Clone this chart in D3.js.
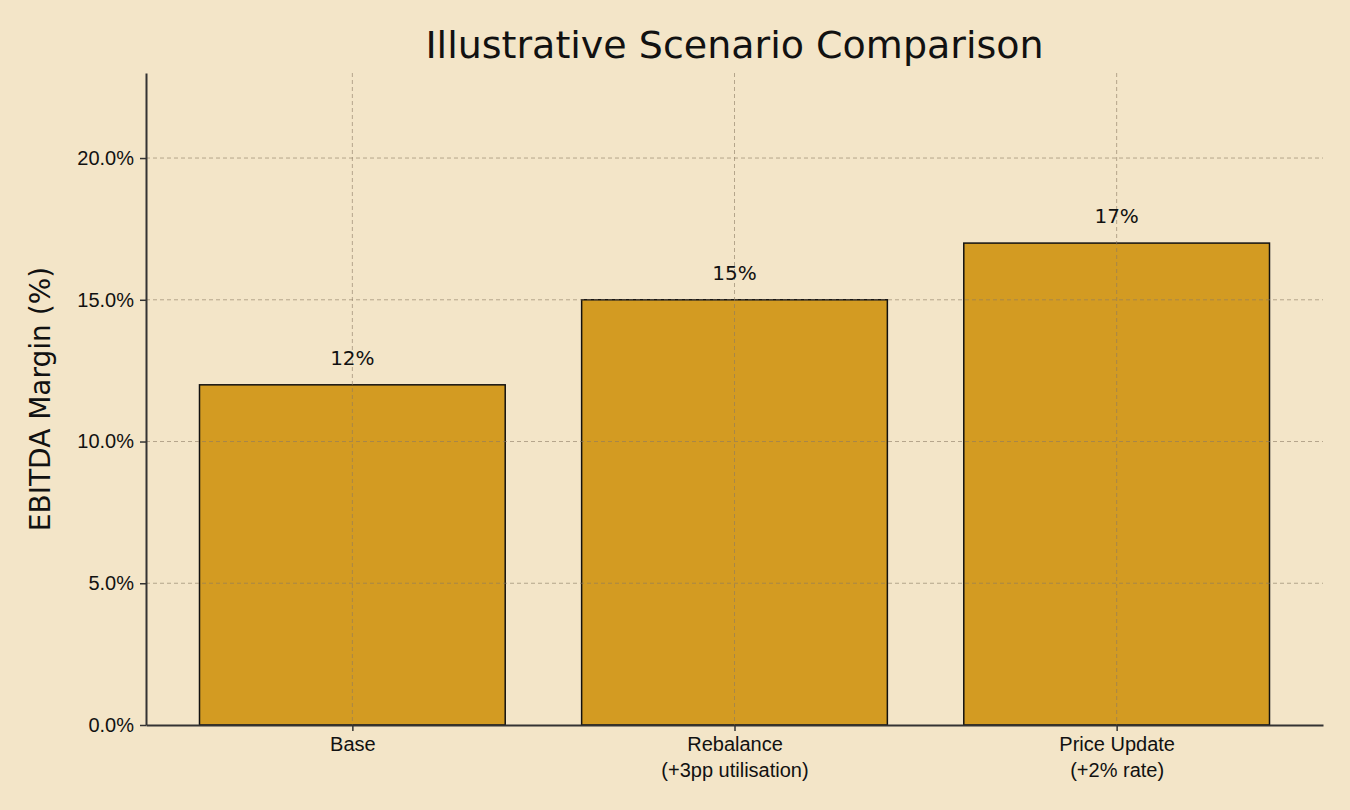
<!DOCTYPE html>
<html><head><meta charset="utf-8">
<script src="https://cdn.jsdelivr.net/npm/d3@7"></script>
<style>body{margin:0;background:#f3e5c8;}svg{font-family:"DejaVu Sans",sans-serif;}</style>
</head><body>
<svg id="chart" width="1350" height="810"></svg>
<script>
// data
var categories = [["Base"], ["Rebalance", "(+3pp utilisation)"], ["Price Update", "(+2% rate)"]];
var margins = [12, 15, 17];
var yTicks = [0, 5, 10, 15, 20];

const width = 1350, height = 810;
const margin = {top: 73, right: 27, bottom: 85, left: 146};

const svg = d3.select("#chart");
svg.append("rect").attr("width", width).attr("height", height).attr("fill", "#f3e5c8");

const x = d3.scaleLinear().domain([-0.54, 2.54]).range([margin.left, width - margin.right]);
const y = d3.scaleLinear().domain([0, 23]).range([height - margin.bottom, margin.top]);
const barW = x(0.8) - x(0);

// bars
svg.append("g").selectAll("rect")
  .data(margins)
  .join("rect")
    .attr("x", (d, i) => x(i) - barW / 2)
    .attr("y", d => y(d))
    .attr("width", barW)
    .attr("height", d => y(0) - y(d))
    .attr("fill", "#d39b22")
    .attr("stroke", "#111")
    .attr("stroke-width", 1.5);

// grid on top
const grid = svg.append("g").attr("stroke", "#8a7a62").attr("stroke-opacity", 0.6)
  .attr("stroke-dasharray", "4,3").attr("stroke-width", 1);
grid.selectAll(".h").data(yTicks.slice(1)).join("line")
  .attr("x1", margin.left).attr("x2", width - margin.right)
  .attr("y1", d => y(d)).attr("y2", d => y(d));
grid.selectAll(".v").data(margins).join("line")
  .attr("x1", (d, i) => x(i)).attr("x2", (d, i) => x(i))
  .attr("y1", margin.top).attr("y2", y(0));

// value labels
svg.append("g").selectAll("text")
  .data(margins)
  .join("text")
    .attr("x", (d, i) => x(i))
    .attr("y", d => y(d) - 20)
    .attr("text-anchor", "middle")
    .attr("font-size", 20)
    .attr("fill", "#111")
    .text(d => d + "%");

// axes
const yAxis = svg.append("g")
  .attr("transform", `translate(${margin.left},0)`)
  .call(d3.axisLeft(y).tickValues(yTicks).tickFormat(d => d.toFixed(1) + "%").tickSize(6).tickPadding(6).tickSizeOuter(0));
yAxis.selectAll("text").attr("font-size", 20).attr("fill", "#111");

const xAxis = svg.append("g")
  .attr("transform", `translate(0,${y(0)})`)
  .call(d3.axisBottom(x).tickValues([0, 1, 2]).tickFormat("").tickSize(6).tickSizeOuter(0));
xAxis.selectAll(".tick").each(function(d) {
  const t = d3.select(this).append("text").attr("fill", "#111").attr("font-size", 20)
    .attr("text-anchor", "middle").attr("y", 26);
  categories[d].forEach((s, k) => t.append("tspan").attr("x", 0).attr("dy", k ? 26 : 0).text(s));
});
[yAxis, xAxis].forEach(a => { a.select(".domain").attr("stroke", "#333").attr("stroke-width", 2); a.selectAll(".tick line").attr("stroke", "#333").attr("stroke-width", 1.5); });

// titles
svg.append("text").attr("x", (margin.left + width - margin.right) / 2).attr("y", 58)
  .attr("text-anchor", "middle").attr("font-size", 38).attr("fill", "#111")
  .text("Illustrative Scenario Comparison");
svg.append("text").attr("transform", `translate(50,${(margin.top + y(0)) / 2}) rotate(-90)`)
  .attr("text-anchor", "middle").attr("font-size", 28).attr("fill", "#111")
  .text("EBITDA Margin (%)");
</script>
</body></html>
